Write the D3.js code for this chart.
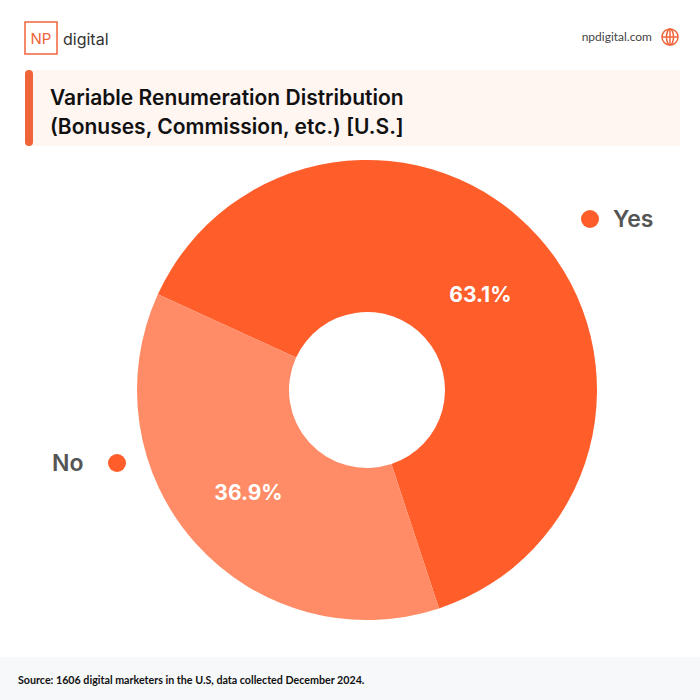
<!DOCTYPE html>
<html><head><meta charset="utf-8">
<script src="https://cdn.jsdelivr.net/npm/d3@7"></script>
<style>body{margin:0;background:#fff}</style></head>
<body><svg id="c" width="700" height="700"></svg>
<script>
const categories = ["Yes", "No"];
const values = [63.1, 36.9];
const colors = ["#FF5E2B", "#FF8C66"];
const font = "Lato, 'Open Sans', sans-serif";
const tfont = "Inter, Lato, sans-serif";
const svg = d3.select("#c");
// header
svg.append("rect").attr("x",25).attr("y",22).attr("width",32).attr("height",32).attr("fill","none").attr("stroke","#F0643A").attr("stroke-width",1.5);
svg.append("text").attr("x",41).attr("y",44).attr("text-anchor","middle").attr("font-family",tfont).attr("font-size",15).attr("fill","#F0643A").text("NP");
svg.append("text").attr("x",63).attr("y",45).attr("font-family",tfont).attr("font-size",16).attr("fill","#333").text("digital");
svg.append("text").attr("x",652).attr("y",41).attr("text-anchor","end").attr("font-family",font).attr("font-size",12).attr("fill","#444").text("npdigital.com");
const g0=svg.append("g").attr("transform","translate(670,37)").attr("fill","none").attr("stroke","#F0643A").attr("stroke-width",1.5);
g0.append("circle").attr("r",8);g0.append("ellipse").attr("rx",3.5).attr("ry",8);
g0.append("line").attr("x1",-8).attr("x2",8);g0.append("line").attr("y1",-8).attr("y2",8);
svg.append("rect").attr("x",25).attr("y",70).attr("width",655).attr("height",76).attr("fill","#FFF5F1");
svg.append("rect").attr("x",25).attr("y",70).attr("width",8).attr("height",76).attr("rx",4).attr("fill","#F0643A");
svg.append("text").attr("x",50).attr("y",105).attr("font-family",tfont).attr("font-weight",600).attr("font-size",21).attr("fill","#111").text("Variable Renumeration Distribution");
svg.append("text").attr("x",50).attr("y",134).attr("font-family",tfont).attr("font-weight",600).attr("font-size",21).attr("fill","#111").text("(Bonuses, Commission, etc.) [U.S.]");
// footer
svg.append("rect").attr("x",0).attr("y",657).attr("width",700).attr("height",43).attr("fill","#F7F8FA");
svg.append("text").attr("x",18).attr("y",684).attr("font-family",font).attr("font-weight",700).attr("font-size",10.7).attr("fill","#111").text("Source: 1606 digital marketers in the U.S, data collected December 2024.");
// pie
const cx=367, cy=390;
const start=-65.4*Math.PI/180;
const pie=d3.pie().sort(null).startAngle(start).endAngle(start+2*Math.PI);
const arcs=pie(values);
const arc=d3.arc().innerRadius(78).outerRadius(230);
const g=svg.append("g").attr("transform",`translate(${cx},${cy})`);
g.selectAll("path").data(arcs).join("path").attr("d",arc).attr("fill",(d,i)=>colors[i]);
const labAngle=[50,229].map(a=>a*Math.PI/180), labR=[148,157];
g.selectAll("text.p").data(arcs).join("text").attr("class","p")
 .attr("transform",(d,i)=>`translate(${labR[i]*Math.sin(labAngle[i])},${-labR[i]*Math.cos(labAngle[i])})`)
 .attr("text-anchor","middle").attr("dy","0.35em").attr("font-family",tfont).attr("font-weight",700).attr("font-size",21).attr("fill","#fff").text(d=>d.data.toFixed(1)+"%");
// legend labels
svg.append("circle").attr("cx",590).attr("cy",219).attr("r",9).attr("fill",colors[0]);
svg.append("text").attr("x",613).attr("y",227).attr("font-family",tfont).attr("font-weight",600).attr("font-size",23).attr("fill","#555").text(categories[0]);
svg.append("circle").attr("cx",117).attr("cy",463).attr("r",9).attr("fill",colors[0]);
svg.append("text").attr("x",52).attr("y",471).attr("font-family",tfont).attr("font-weight",600).attr("font-size",23).attr("fill","#555").text(categories[1]);
</script></body></html>
